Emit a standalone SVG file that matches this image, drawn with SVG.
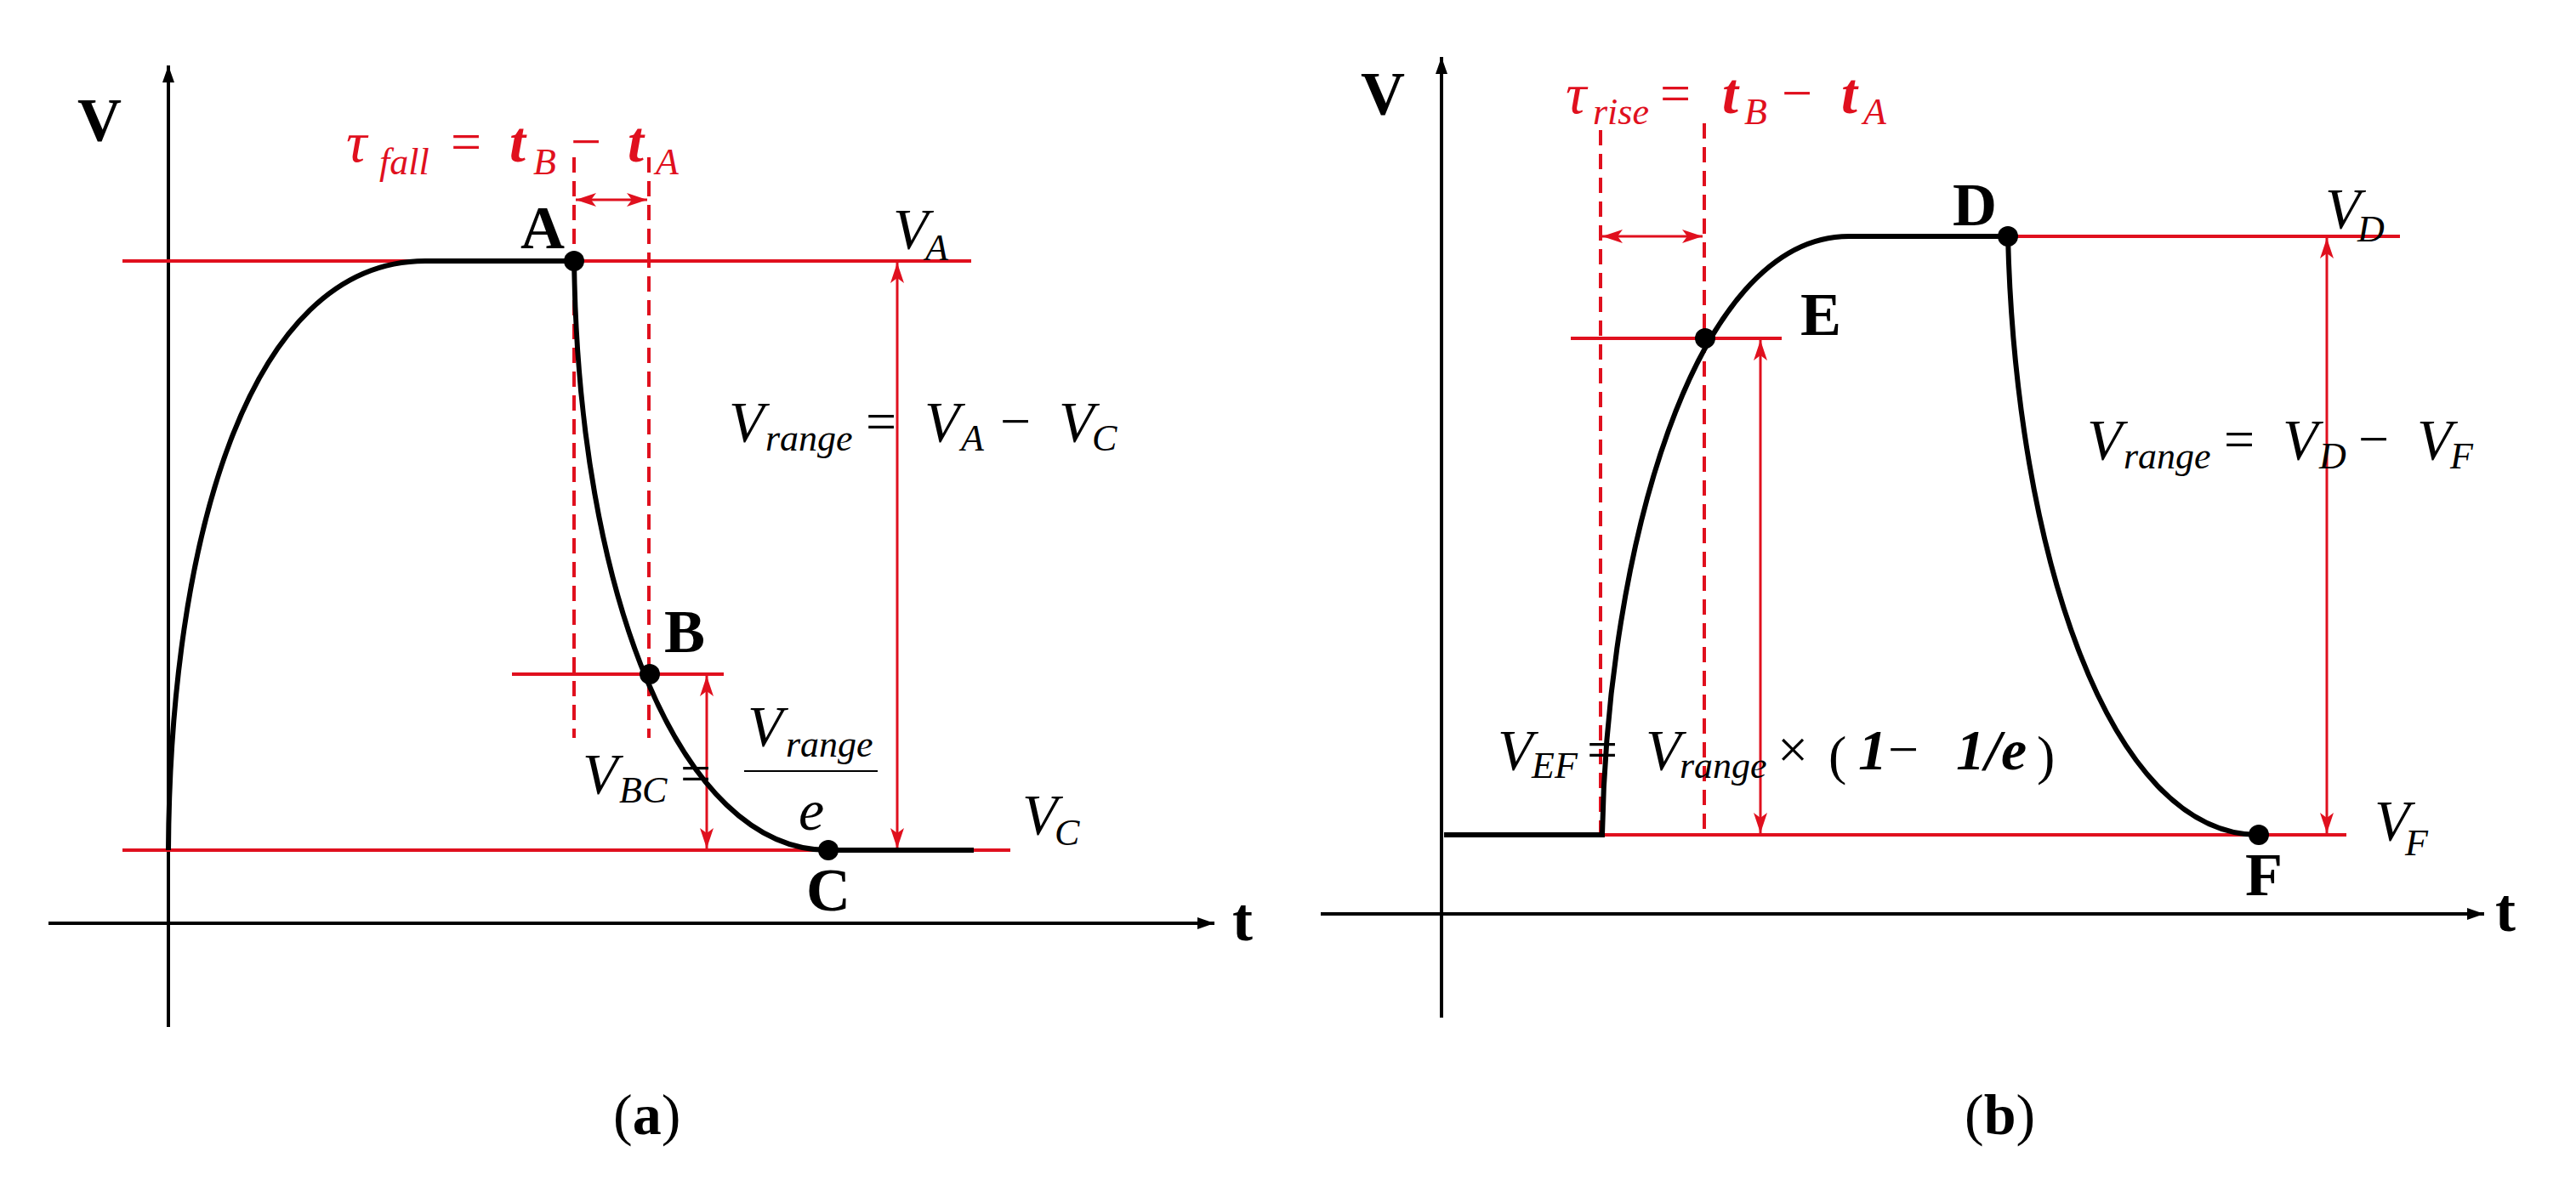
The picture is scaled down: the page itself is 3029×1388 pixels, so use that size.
<svg xmlns="http://www.w3.org/2000/svg" width="3029" height="1388" viewBox="0 0 3029 1388">
<style>
.ax{stroke:#000;stroke-width:4;fill:none}
.cv{stroke:#000;stroke-width:6;fill:none}
.rl{stroke:#e0101e;stroke-width:4;fill:none}
.rt{stroke:#e0101e;stroke-width:3;fill:none}
.dash{stroke:#e0101e;stroke-width:4;stroke-dasharray:18 10;fill:none}
.lb{font-family:"Liberation Serif",serif;font-weight:bold;font-size:72px;fill:#000}
.m{font-family:"Liberation Serif",serif;font-style:italic;font-size:68px;fill:#000}
.s{font-family:"Liberation Serif",serif;font-style:italic;font-size:44px;fill:#000}
.mr{font-family:"Liberation Serif",serif;font-style:italic;font-size:68px;fill:#e0101e}
.sr{font-family:"Liberation Serif",serif;font-style:italic;font-size:44px;fill:#e0101e}
.op{font-family:"Liberation Serif",serif;font-size:64px;fill:#000}
.opr{font-family:"Liberation Serif",serif;font-size:64px;fill:#e0101e}
.cap{font-family:"Liberation Serif",serif;font-size:68px;fill:#000}
</style>
<defs>
<marker id="ak" viewBox="0 0 20 14" refX="20" refY="7" markerWidth="20" markerHeight="14" markerUnits="userSpaceOnUse" orient="auto"><path d="M0,0 L20,7 L0,14 z" fill="#000"/></marker>
<marker id="ar" viewBox="0 0 24 16" refX="24" refY="8" markerWidth="24" markerHeight="16" markerUnits="userSpaceOnUse" orient="auto-start-reverse"><path d="M0,0 L24,8 L0,16 L6,8 z" fill="#e0101e"/></marker>
</defs>

<g id="connectors">
<!-- panel a axes -->
<line class="ax" x1="198" y1="1208" x2="198" y2="77" marker-end="url(#ak)"/>
<line class="ax" x1="57" y1="1086" x2="1428" y2="1086" marker-end="url(#ak)"/>
<!-- panel a red lines -->
<line class="rl" x1="144" y1="307" x2="1142" y2="307"/>
<line class="rl" x1="144" y1="1000" x2="1188" y2="1000"/>
<line class="rl" x1="602" y1="793" x2="851" y2="793"/>
<line class="dash" x1="675" y1="185" x2="675" y2="868"/>
<line class="dash" x1="763" y1="185" x2="763" y2="868"/>
<line class="rt" x1="677" y1="235" x2="761" y2="235" marker-start="url(#ar)" marker-end="url(#ar)"/>
<line class="rt" x1="831" y1="795" x2="831" y2="998" marker-start="url(#ar)" marker-end="url(#ar)"/>
<line class="rt" x1="1055" y1="309" x2="1055" y2="998" marker-start="url(#ar)" marker-end="url(#ar)"/>
<!-- panel a curve -->
<path class="cv" d="M198,1000 C200,640 290,307 500,307 L675,307 C680,700 800,1000 974,1000 L1145,1000"/>

<!-- panel b axes -->
<line class="ax" x1="1695" y1="1197" x2="1695" y2="67" marker-end="url(#ak)"/>
<line class="ax" x1="1553" y1="1075" x2="2921" y2="1075" marker-end="url(#ak)"/>
<!-- panel b red lines -->
<line class="rl" x1="2361" y1="278" x2="2822" y2="278"/>
<line class="rl" x1="1698" y1="982" x2="2759" y2="982"/>
<line class="rl" x1="1847" y1="398" x2="2095" y2="398"/>
<line class="dash" x1="1882" y1="153" x2="1882" y2="982"/>
<line class="dash" x1="2004" y1="145" x2="2004" y2="982"/>
<line class="rt" x1="1884" y1="278" x2="2002" y2="278" marker-start="url(#ar)" marker-end="url(#ar)"/>
<line class="rt" x1="2070" y1="400" x2="2070" y2="980" marker-start="url(#ar)" marker-end="url(#ar)"/>
<line class="rt" x1="2736" y1="280" x2="2736" y2="980" marker-start="url(#ar)" marker-end="url(#ar)"/>
<!-- panel b curve -->
<path class="cv" d="M1698,982 L1884,982 C1890,650 1990,278 2174,278 L2361,278 C2370,650 2480,982 2656,982"/>
</g>

<g id="node-A"><circle cx="675" cy="307" r="12"/><text class="lb" x="612" y="292">A</text></g>
<g id="node-B"><circle cx="764" cy="793" r="12"/><text class="lb" x="781" y="767">B</text></g>
<g id="node-C"><circle cx="974" cy="1000" r="12"/><text class="lb" x="948" y="1071">C</text></g>
<g id="node-D"><circle cx="2361" cy="278" r="12"/><text class="lb" x="2296" y="265">D</text></g>
<g id="node-E"><circle cx="2005" cy="398" r="12"/><text class="lb" x="2117" y="394">E</text></g>
<g id="node-F"><circle cx="2656" cy="982" r="12"/><text class="lb" x="2640" y="1053">F</text></g>

<g id="labels-a">
<text class="lb" x="91" y="165">V</text>
<text class="lb" x="1449" y="1106">t</text>
<text class="mr" x="407" y="190">τ</text><text class="sr" x="446" y="205">fall</text>
<text class="opr" x="530" y="188">=</text>
<text class="mr" x="599" y="190" font-weight="bold">t</text><text class="sr" x="627" y="205">B</text>
<text class="opr" x="671" y="188">−</text>
<text class="mr" x="738" y="190" font-weight="bold">t</text><text class="sr" x="771" y="205">A</text>
<text class="m" x="1050" y="292">V</text><text class="s" x="1088" y="306">A</text>
<text class="m" x="1202" y="981">V</text><text class="s" x="1240" y="994">C</text>
<text class="m" x="857" y="519">V</text><text class="s" x="900" y="530">range</text>
<text class="op" x="1018" y="517">=</text>
<text class="m" x="1087" y="519">V</text><text class="s" x="1130" y="530">A</text>
<text class="op" x="1176" y="517">−</text>
<text class="m" x="1245" y="519">V</text><text class="s" x="1284" y="530">C</text>
<text class="m" x="685" y="933">V</text><text class="s" x="728" y="944">BC</text>
<text class="op" x="800" y="931">=</text>
<text class="m" x="879" y="877">V</text><text class="s" x="924" y="890">range</text>
<line x1="875" y1="907" x2="1032" y2="907" stroke="#000" stroke-width="2"/>
<text class="m" x="939" y="976">e</text>
<text class="cap" x="721" y="1334">(<tspan font-weight="bold">a</tspan>)</text>
</g>

<g id="labels-b">
<text class="lb" x="1600" y="134">V</text>
<text class="lb" x="2934" y="1095">t</text>
<text class="mr" x="1841" y="133">τ</text><text class="sr" x="1873" y="146">rise</text>
<text class="opr" x="1952" y="131">=</text>
<text class="mr" x="2025" y="133" font-weight="bold">t</text><text class="sr" x="2051" y="146">B</text>
<text class="opr" x="2095" y="131">−</text>
<text class="mr" x="2165" y="133" font-weight="bold">t</text><text class="sr" x="2191" y="146">A</text>
<text class="m" x="2734" y="268">V</text><text class="s" x="2772" y="284">D</text>
<text class="m" x="2792" y="988">V</text><text class="s" x="2828" y="1006">F</text>
<text class="m" x="2454" y="540">V</text><text class="s" x="2497" y="551">range</text>
<text class="op" x="2615" y="538">=</text>
<text class="m" x="2684" y="540">V</text><text class="s" x="2727" y="551">D</text>
<text class="op" x="2773" y="538">−</text>
<text class="m" x="2842" y="540">V</text><text class="s" x="2881" y="551">F</text>
<text class="m" x="1761" y="905">V</text><text class="s" x="1801" y="915">EF</text>
<text class="op" x="1866" y="903">=</text>
<text class="m" x="1935" y="905">V</text><text class="s" x="1975" y="915">range</text>
<text class="op" x="2090" y="903">×</text>
<text class="op" x="2150" y="910" font-size="84">(</text>
<text class="m" x="2185" y="905" font-weight="bold">1</text>
<text class="op" x="2220" y="903">−</text>
<text class="m" x="2300" y="905" font-weight="bold">1/e</text>
<text class="op" x="2395" y="910" font-size="84">)</text>
<text class="cap" x="2310" y="1334">(<tspan font-weight="bold">b</tspan>)</text>
</g>
</svg>
